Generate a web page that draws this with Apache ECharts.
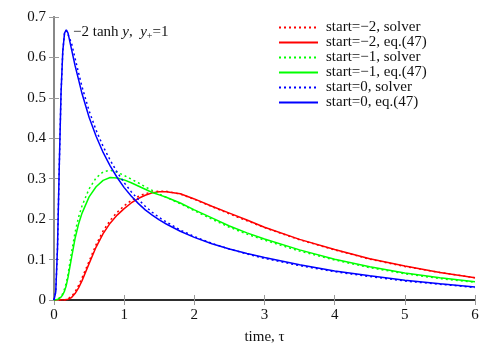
<!DOCTYPE html>
<html><head><meta charset="utf-8">
<script src="https://cdn.jsdelivr.net/npm/echarts@6/dist/echarts.min.js"></script>
<style>html,body{margin:0;padding:0;background:#fff}#c{width:500px;height:350px}</style>
</head><body><div id="c"></div>
<script>
const tValues = [0,0.025,0.05,0.075,0.1,0.125,0.15,0.175,0.2,0.25,0.3,0.35,0.4,0.5,0.6,0.7,0.8,0.9,1.0,1.1,1.2,1.3,1.4,1.5,1.6,1.8,2.0,2.25,2.5,2.75,3.0,3.5,4.0,4.5,5.0,5.5,6.0];
const xTicks = [0,1,2,3,4,5,6];
const yTicks = [0,0.1,0.2,0.3,0.4,0.5,0.6,0.7];
const seriesNames = ['start=\u22122, solver','start=\u22122, eq.(47)','start=\u22121, solver','start=\u22121, eq.(47)','start=0, solver','start=0, eq.(47)'];
const redSolver = [0,0,0,0,0,0,0,0.001,0.003,0.009,0.02,0.036,0.055,0.096,0.137,0.171,0.197,0.217,0.233,0.246,0.256,0.263,0.267,0.269,0.269,0.262,0.249,0.231,0.213,0.196,0.179,0.149,0.124,0.101,0.083,0.068,0.055];
const redEq = [0,0,0,0,0,0,0,0.001,0.002,0.006,0.016,0.03,0.048,0.09,0.131,0.164,0.19,0.21,0.226,0.24,0.251,0.259,0.265,0.268,0.268,0.263,0.25,0.232,0.215,0.198,0.18,0.15,0.125,0.102,0.084,0.068,0.055];
const greenSolver = [0,0,0.001,0.004,0.009,0.016,0.027,0.043,0.064,0.118,0.167,0.205,0.233,0.275,0.302,0.317,0.321,0.316,0.308,0.299,0.29,0.28,0.271,0.262,0.254,0.238,0.221,0.2,0.18,0.163,0.148,0.121,0.099,0.08,0.065,0.053,0.044];
const greenEq = [0,0,0.001,0.003,0.007,0.013,0.022,0.036,0.056,0.105,0.152,0.188,0.215,0.255,0.28,0.296,0.303,0.302,0.297,0.29,0.282,0.274,0.266,0.26,0.254,0.24,0.223,0.203,0.183,0.166,0.151,0.124,0.101,0.082,0.067,0.055,0.045];
const blueSolver = [0,0.02,0.13,0.33,0.51,0.615,0.66,0.667,0.663,0.635,0.598,0.562,0.527,0.468,0.42,0.38,0.346,0.316,0.29,0.268,0.249,0.232,0.217,0.204,0.193,0.173,0.157,0.14,0.126,0.114,0.103,0.085,0.07,0.058,0.047,0.039,0.031];
const blueEq = [0,0.02,0.13,0.33,0.51,0.615,0.66,0.668,0.66,0.62,0.58,0.545,0.51,0.452,0.405,0.365,0.332,0.303,0.278,0.257,0.239,0.223,0.21,0.198,0.188,0.17,0.155,0.139,0.126,0.115,0.105,0.087,0.072,0.06,0.049,0.04,0.032];

const FONT = 'Liberation Serif';
const FS = 15;
const pairs = arr => tValues.map((t,i)=>[t,arr[i]]);
function mk(name, arr, color, dotted){
  return {name, type:'line', data:pairs(arr), symbol:'none', showSymbol:false, smooth:false, animation:false,
    lineStyle:{color, width:1.5, type: dotted ? [2,3] : 'solid'}, itemStyle:{color}};
}
const chart = echarts.init(document.getElementById('c'), null, {renderer:'canvas'});
const axisCommon = {
  min:0, axisLine:{show:true, lineStyle:{color:'#222', width:1.5}},
  axisTick:{show:true, inside:true, length:5, lineStyle:{color:'#999'}},
  splitLine:{show:false}
};
chart.setOption({
  animation:false,
  grid:{left:54, right:25, top:17, bottom:44},
  legend:{
    orient:'vertical', left:278, top:20, padding:0, itemGap:0, itemWidth:39, itemHeight:14,
    itemStyle:{opacity:0},
    data:seriesNames.map(n=>({name:n})),
    textStyle:{fontFamily:FONT, fontSize:FS, color:'#111', padding:[0,0,0,3]}
  },
  xAxis:[
    Object.assign({type:'value', max:6, interval:1, position:'bottom',
      axisLabel:{fontFamily:FONT, fontSize:FS, color:'#111', margin:8, formatter:v=>xTicks.includes(v)?String(v):''},
      name:'time, \u03c4', nameLocation:'middle', nameGap:30,
      nameTextStyle:{fontFamily:FONT, fontSize:FS, color:'#111'}}, axisCommon),
    Object.assign({type:'value', max:6, interval:1, position:'top', axisLabel:{show:false}}, axisCommon)
  ],
  yAxis:[
    Object.assign({type:'value', max:0.7, interval:0.1, position:'left',
      axisLabel:{fontFamily:FONT, fontSize:FS, color:'#111', margin:8,
        formatter:v=>{const r=Math.round(v*10)/10; return r===0?'0':r.toFixed(1);}}}, axisCommon),
    Object.assign({type:'value', max:0.7, interval:0.1, position:'right', axisLabel:{show:false}}, axisCommon, {axisLine:{show:true, lineStyle:{color:'#888', width:2}}})
  ],
  graphic:[{
    type:'text', left:73, top:25,
    style:{
      text:'{n|\u22122 tanh }{i|y}{n|,  }{i|y}{s|+}{n|=1}',
      rich:{
        n:{fontFamily:FONT, fontSize:FS, fill:'#111', lineHeight:18, verticalAlign:'middle'},
        i:{fontFamily:FONT, fontSize:FS, fontStyle:'italic', fill:'#111', lineHeight:18, verticalAlign:'middle'},
        s:{fontFamily:FONT, fontSize:10, fill:'#111', lineHeight:18, verticalAlign:'bottom'}
      }
    }
  }],
  series:[
    mk(seriesNames[0], redSolver, '#ff0000', true),
    mk(seriesNames[1], redEq, '#ff0000', false),
    mk(seriesNames[2], greenSolver, '#00ff00', true),
    mk(seriesNames[3], greenEq, '#00ff00', false),
    mk(seriesNames[4], blueSolver, '#0000ff', true),
    mk(seriesNames[5], blueEq, '#0000ff', false)
  ]
});
</script></body></html>
